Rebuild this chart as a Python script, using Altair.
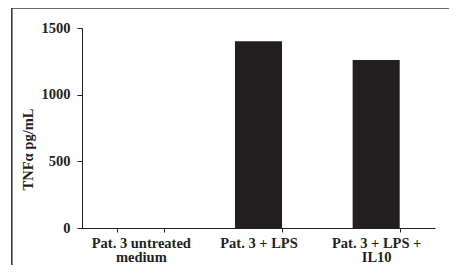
import altair as alt
import pandas as pd

categories = ["Pat. 3 untreated|medium", "Pat. 3 + LPS", "Pat. 3 + LPS +|IL10"]
values = [0, 1400, 1260]
y_ticks = [0, 500, 1000, 1500]

df = pd.DataFrame({"cat": categories, "val": values})
FONT = "Liberation Serif"
INK = "#231f20"

bars = alt.Chart(df).mark_bar(color=INK).encode(
    x=alt.X(
        "cat:N",
        sort=categories,
        scale=alt.Scale(paddingInner=0.6, paddingOuter=0.3),
        axis=alt.Axis(
            title=None,
            labelAngle=0,
            labelExpr="split(datum.label, '|')",
            tickBand="extent",
            tickSize=4,
            labelPadding=4,
            labelFont=FONT,
            labelFontSize=14.5,
            labelFontWeight="bold",
            labelColor=INK,
            labelLineHeight=14.5,
            domainColor=INK,
            tickColor=INK,
        ),
    ),
    y=alt.Y(
        "val:Q",
        scale=alt.Scale(domain=[0, 1500]),
        axis=alt.Axis(
            values=y_ticks,
            format="d",
            title="TNFα pg/mL",
            grid=False,
            tickSize=5,
            labelPadding=7,
            labelFont=FONT,
            labelFontSize=14.5,
            labelFontWeight="bold",
            labelColor=INK,
            domainColor=INK,
            tickColor=INK,
            titleFont=FONT,
            titleFontSize=14.5,
            titleFontWeight="bold",
            titleColor=INK,
            titleAngle=270,
            titleX=-54,
            titleY=121,
            titleAlign="center",
            titleBaseline="middle",
        ),
    ),
)

frame = alt.Data(values=[{}])
top_rule = alt.Chart(frame).mark_rule(color="#3a3a3a", strokeWidth=1.6).encode(
    x=alt.value(-71), x2=alt.value(380), y=alt.value(-20)
)
left_rule = alt.Chart(frame).mark_rule(color="#3a3a3a", strokeWidth=1.6).encode(
    x=alt.value(-70.2), y=alt.value(-20.8), y2=alt.value(260)
)

chart = (
    alt.layer(bars, top_rule, left_rule)
    .properties(
        width=353,
        height=200,
        autosize=alt.AutoSizeParams(type="none"),
        padding={"left": 74, "top": 20, "right": 14, "bottom": 37},
        background="white",
    )
    .configure_view(stroke=None)
)

chart.save("out.html", embed_options={"renderer": "svg", "actions": False})
